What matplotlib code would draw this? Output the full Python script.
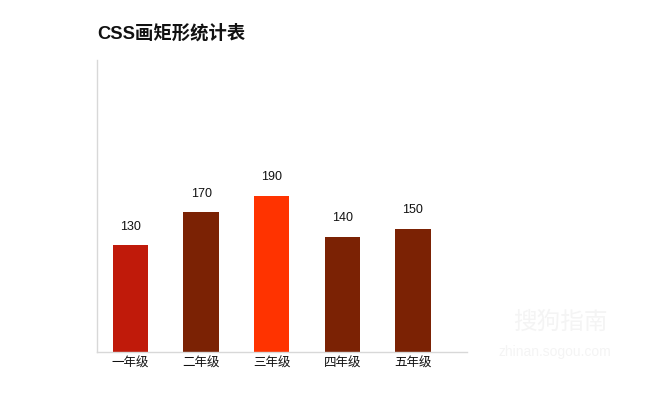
import matplotlib
matplotlib.use("Agg")
import matplotlib.pyplot as plt

plt.rcParams['font.family'] = ['Liberation Sans', 'Noto Sans CJK SC', 'DejaVu Sans']

grades = ["一年级", "二年级", "三年级", "四年级", "五年级"]
counts = [130, 170, 190, 140, 150]
bar_colors = ["#c01a0a", "#7b2204", "#ff3300", "#7b2204", "#7b2204"]

fig = plt.figure(figsize=(6.5, 3.93), dpi=100)
ax = fig.add_axes([97 / 650, 41 / 393, 370 / 650, 292 / 393])

x = range(len(grades))
bars = ax.bar(x, counts, width=0.5, color=bar_colors)
for b, v in zip(bars, counts):
    ax.annotate(str(v), (b.get_x() + b.get_width() / 2, v), xytext=(0, 9),
                textcoords="offset points", ha="center", va="bottom", fontsize=9,
                color="#111111")

ax.set_xlim(-0.475, 4.765)
ax.set_ylim(0, 355)
ax.set_xticks(list(x))
ax.set_xticklabels(grades, fontsize=9, color="#111111")
ax.set_yticks([])
ax.tick_params(axis="x", length=0, pad=4)
for s in ["top", "right"]:
    ax.spines[s].set_visible(False)
for s in ["left", "bottom"]:
    ax.spines[s].set_color("#d8d8d8")
    ax.spines[s].set_linewidth(1)

fig.text(97 / 650, 1 - 33 / 393, "CSS画矩形统计表", fontsize=13.2, fontweight="bold",
         ha="left", va="center", color="#111111")

# faint watermark
fig.text(560 / 650, 1 - 323 / 393, "搜狗指南", fontsize=17, color="#f4f4f4",
         ha="center", va="center")
fig.text(555 / 650, 1 - 352 / 393, "zhinan.sogou.com", fontsize=10, color="#f4f4f4",
         ha="center", va="center")

fig.savefig("out.png", dpi=100)
